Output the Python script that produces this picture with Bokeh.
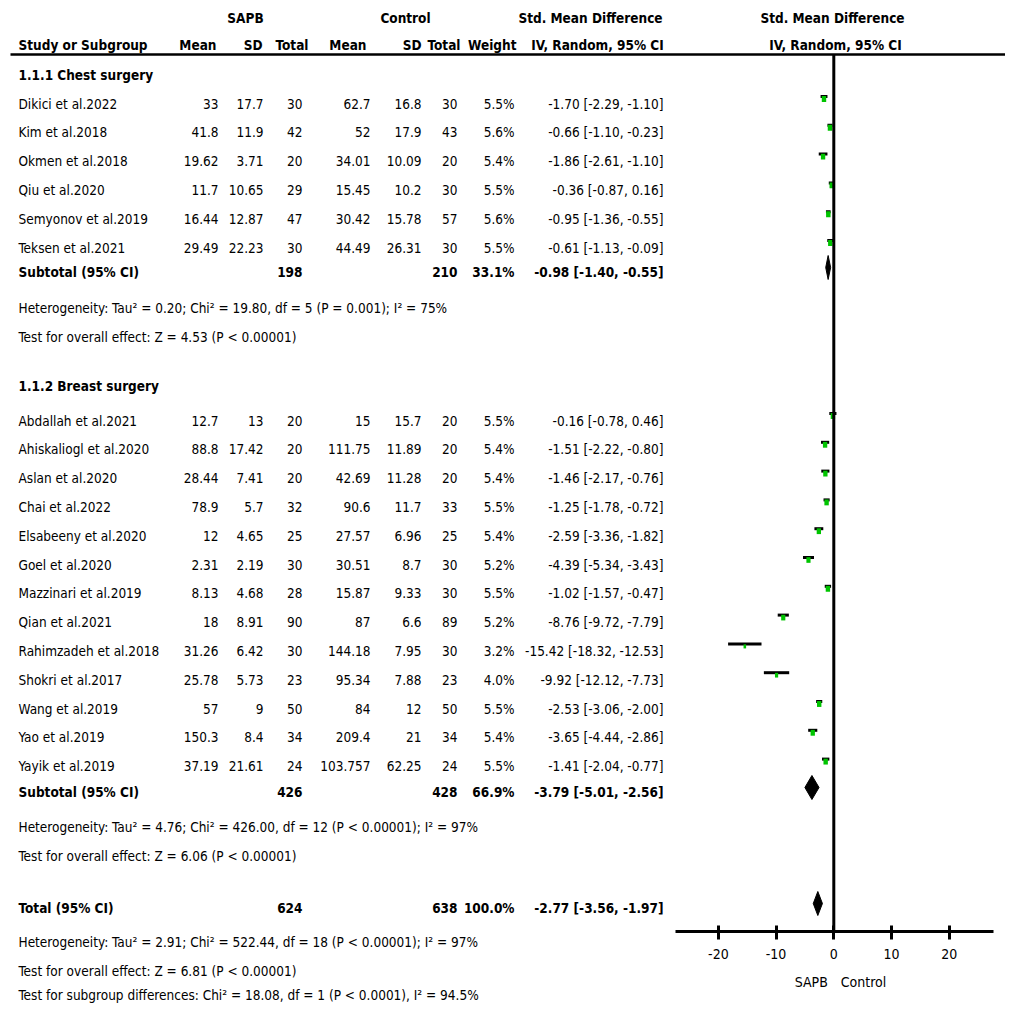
from bokeh.plotting import figure
from bokeh.models import Range1d, LinearAxis, FixedTicker, ColumnDataSource
from bokeh.core.properties import value
from bokeh.embed import file_html
from bokeh.resources import INLINE

# ---------------- data ----------------
chest_study = ["Dikici et al.2022", "Kim et al.2018", "Okmen et al.2018", "Qiu et al.2020",
               "Semyonov et al.2019", "Teksen et al.2021"]
chest_sapb_mean = [33, 41.8, 19.62, 11.7, 16.44, 29.49]
chest_sapb_sd = [17.7, 11.9, 3.71, 10.65, 12.87, 22.23]
chest_sapb_n = [30, 42, 20, 29, 47, 30]
chest_ctrl_mean = [62.7, 52, 34.01, 15.45, 30.42, 44.49]
chest_ctrl_sd = [16.8, 17.9, 10.09, 10.2, 15.78, 26.31]
chest_ctrl_n = [30, 43, 20, 30, 57, 30]
chest_weight = [5.5, 5.6, 5.4, 5.5, 5.6, 5.5]
chest_smd = [-1.70, -0.66, -1.86, -0.36, -0.95, -0.61]
chest_lo = [-2.29, -1.10, -2.61, -0.87, -1.36, -1.13]
chest_hi = [-1.10, -0.23, -1.10, 0.16, -0.55, -0.09]
chest_sub = dict(n1=198, n2=210, w=33.1, smd=-0.98, lo=-1.40, hi=-0.55)
chest_het = "Heterogeneity: Tau\u00b2 = 0.20; Chi\u00b2 = 19.80, df = 5 (P = 0.001); I\u00b2 = 75%"
chest_test = "Test for overall effect: Z = 4.53 (P < 0.00001)"

breast_study = ["Abdallah et al.2021", "Ahiskaliogl et al.2020", "Aslan et al.2020", "Chai et al.2022",
                "Elsabeeny et al.2020", "Goel et al.2020", "Mazzinari et al.2019", "Qian et al.2021",
                "Rahimzadeh et al.2018", "Shokri et al.2017", "Wang et al.2019", "Yao et al.2019",
                "Yayik et al.2019"]
breast_sapb_mean = [12.7, 88.8, 28.44, 78.9, 12, 2.31, 8.13, 18, 31.26, 25.78, 57, 150.3, 37.19]
breast_sapb_sd = [13, 17.42, 7.41, 5.7, 4.65, 2.19, 4.68, 8.91, 6.42, 5.73, 9, 8.4, 21.61]
breast_sapb_n = [20, 20, 20, 32, 25, 30, 28, 90, 30, 23, 50, 34, 24]
breast_ctrl_mean = [15, 111.75, 42.69, 90.6, 27.57, 30.51, 15.87, 87, 144.18, 95.34, 84, 209.4, 103.757]
breast_ctrl_sd = [15.7, 11.89, 11.28, 11.7, 6.96, 8.7, 9.33, 6.6, 7.95, 7.88, 12, 21, 62.25]
breast_ctrl_n = [20, 20, 20, 33, 25, 30, 30, 89, 30, 23, 50, 34, 24]
breast_weight = [5.5, 5.4, 5.4, 5.5, 5.4, 5.2, 5.5, 5.2, 3.2, 4.0, 5.5, 5.4, 5.5]
breast_smd = [-0.16, -1.51, -1.46, -1.25, -2.59, -4.39, -1.02, -8.76, -15.42, -9.92, -2.53, -3.65, -1.41]
breast_lo = [-0.78, -2.22, -2.17, -1.78, -3.36, -5.34, -1.57, -9.72, -18.32, -12.12, -3.06, -4.44, -2.04]
breast_hi = [0.46, -0.80, -0.76, -0.72, -1.82, -3.43, -0.47, -7.79, -12.53, -7.73, -2.00, -2.86, -0.77]
breast_sub = dict(n1=426, n2=428, w=66.9, smd=-3.79, lo=-5.01, hi=-2.56)
breast_het = "Heterogeneity: Tau\u00b2 = 4.76; Chi\u00b2 = 426.00, df = 12 (P < 0.00001); I\u00b2 = 97%"
breast_test = "Test for overall effect: Z = 6.06 (P < 0.00001)"

total = dict(n1=624, n2=638, w=100.0, smd=-2.77, lo=-3.56, hi=-1.97)
total_het = "Heterogeneity: Tau\u00b2 = 2.91; Chi\u00b2 = 522.44, df = 18 (P < 0.00001); I\u00b2 = 97%"
total_test = "Test for overall effect: Z = 6.81 (P < 0.00001)"
subgroup_test = "Test for subgroup differences: Chi\u00b2 = 18.08, df = 1 (P < 0.0001), I\u00b2 = 94.5%"

tick_values = [-20, -10, 0, 10, 20]
tick_labels = ["-20", "-10", "0", "10", "20"]
axis_bounds = [-27.4, 27.6]
favours = ["SAPB", "Control"]

# ---------------- layout ----------------
FONT = "DejaVu Sans Condensed"
FS = "13.5px"
ZERO_PX = 833.3
PX_PER_UNIT = 5.77
W, H = 1005, 1003

p = figure(width=W, height=H, x_range=Range1d(0, W), y_range=Range1d(H, 0),
           output_backend="svg", toolbar_location=None, min_border=0,
           x_axis_type=None, y_axis_type=None)
p.grid.visible = False
p.outline_line_color = None
p.background_fill_color = "white"
p.border_fill_color = "white"
p.extra_x_ranges = {"smd": Range1d((0 - ZERO_PX) / PX_PER_UNIT, (W - ZERO_PX) / PX_PER_UNIT)}


def put(xs, ys, texts, align, bold=False, xr="default", size=FS, x_offset=0):
    src = ColumnDataSource(dict(x=list(xs), y=list(ys), t=list(texts)))
    p.text("x", "y", text="t", source=src, text_align=align, text_baseline="middle",
           text_font=value(FONT), text_font_size=size, x_offset=x_offset,
           text_font_style="bold" if bold else "normal", text_color="black",
           x_range_name=xr)


def fmt(v):
    return f"{v:g}"


def ci(s, l, h):
    return f"{s:.2f} [{l:.2f}, {h:.2f}]"


COLS = dict(m1=218, s1=263, n1=302, m2=370, s2=421, n2=457, w=514, ci=663)
LEFT = 18

# headers
put([245, 405, 590, 832], [17] * 4, ["SAPB", "Control", "Std. Mean Difference", "Std. Mean Difference"],
    "center", bold=True)
put([LEFT], [44], ["Study or Subgroup"], "left", bold=True)
put([216, 262, 308, 366, 421, 460, 516], [44] * 7,
    ["Mean", "SD", "Total", "Mean", "SD", "Total", "Weight"], "right", bold=True)
put([597, 835], [44, 44], ["IV, Random, 95% CI", "IV, Random, 95% CI"], "center", bold=True)
p.segment(x0=[10], y0=[54], x1=[W], y1=[54], line_width=2.5, line_color="black")


def summary(label, sy, d):
    put([LEFT], [sy], [label], "left", bold=True)
    put([COLS["n1"], COLS["n2"], COLS["w"], COLS["ci"]], [sy] * 4,
        [fmt(d["n1"]), fmt(d["n2"]), f"{d['w']:.1f}%", ci(d["smd"], d["lo"], d["hi"])], "right", bold=True)
    yc = sy - 4
    p.patches(xs=[[d["lo"], d["smd"], d["hi"], d["smd"]]], ys=[[yc, yc - 12, yc, yc + 12]],
              fill_color="black", line_color="black", x_range_name="smd")


def group(title, ty, study, m1, s1, n1, m2, s2, n2, w, smd, lo, hi, y0, sub, sy, het, test, hy):
    ys = [y0 + 28.8 * i for i in range(len(study))]
    put([LEFT], [ty], [title], "left", bold=True)
    put([LEFT] * len(study), ys, study, "left")
    put([COLS["m1"]] * len(ys), ys, [fmt(v) for v in m1], "right")
    put([COLS["s1"]] * len(ys), ys, [fmt(v) for v in s1], "right")
    put([COLS["n1"]] * len(ys), ys, [fmt(v) for v in n1], "right")
    put([COLS["m2"]] * len(ys), ys, [fmt(v) for v in m2], "right")
    put([COLS["s2"]] * len(ys), ys, [fmt(v) for v in s2], "right")
    put([COLS["n2"]] * len(ys), ys, [fmt(v) for v in n2], "right")
    put([COLS["w"]] * len(ys), ys, [f"{v:.1f}%" for v in w], "right")
    put([COLS["ci"]] * len(ys), ys, [ci(a, b, c) for a, b, c in zip(smd, lo, hi)], "right")
    # confidence intervals and weighted squares
    p.segment(x0=lo, y0=[y - 7 for y in ys], x1=hi, y1=[y - 7 for y in ys],
              line_width=3, line_color="black", x_range_name="smd")
    p.rect(x=smd, y=[y - 4.5 for y in ys], width=[v * 0.8 for v in w], height=[v * 0.8 + 1.5 for v in w],
           width_units="screen", height_units="screen", fill_color="#00c400", line_color=None,
           x_range_name="smd")
    summary("Subtotal (95% CI)", sy, sub)
    put([LEFT, LEFT], [hy, hy + 29], [het, test], "left")


group("1.1.1 Chest surgery", 74, chest_study, chest_sapb_mean, chest_sapb_sd, chest_sapb_n,
      chest_ctrl_mean, chest_ctrl_sd, chest_ctrl_n, chest_weight, chest_smd, chest_lo, chest_hi,
      103, chest_sub, 271, chest_het, chest_test, 307)
group("1.1.2 Breast surgery", 385, breast_study, breast_sapb_mean, breast_sapb_sd, breast_sapb_n,
      breast_ctrl_mean, breast_ctrl_sd, breast_ctrl_n, breast_weight, breast_smd, breast_lo, breast_hi,
      420, breast_sub, 791, breast_het, breast_test, 826)
summary("Total (95% CI)", 907, total)
put([LEFT, LEFT, LEFT], [941, 970, 994], [total_het, total_test, subgroup_test], "left")

# zero line
p.segment(x0=[0], y0=[54], x1=[0], y1=[931], line_width=3, line_color="black", x_range_name="smd")

# axis
ax = LinearAxis(x_range_name="smd", ticker=FixedTicker(ticks=tick_values), bounds=tuple(axis_bounds),
                fixed_location=931)
ax.axis_line_width = 3
ax.axis_line_color = "black"
ax.major_tick_line_width = 3
ax.major_tick_line_color = "black"
ax.major_tick_in = 6
ax.major_tick_out = 8
ax.minor_tick_line_color = None
ax.major_label_text_font = FONT
ax.major_label_text_font_size = "14px"
ax.major_label_text_color = "black"
ax.major_label_standoff = 9
ax.major_label_overrides = {v: s for v, s in zip(tick_values, tick_labels)}
p.add_layout(ax, "below")

# favours labels either side of zero
put([0], [981], [favours[0]], "right", xr="smd", x_offset=-6, size="14px")
put([0], [981], [favours[1]], "left", xr="smd", x_offset=7, size="14px")

open("out.html", "w").write(file_html(p, INLINE))
